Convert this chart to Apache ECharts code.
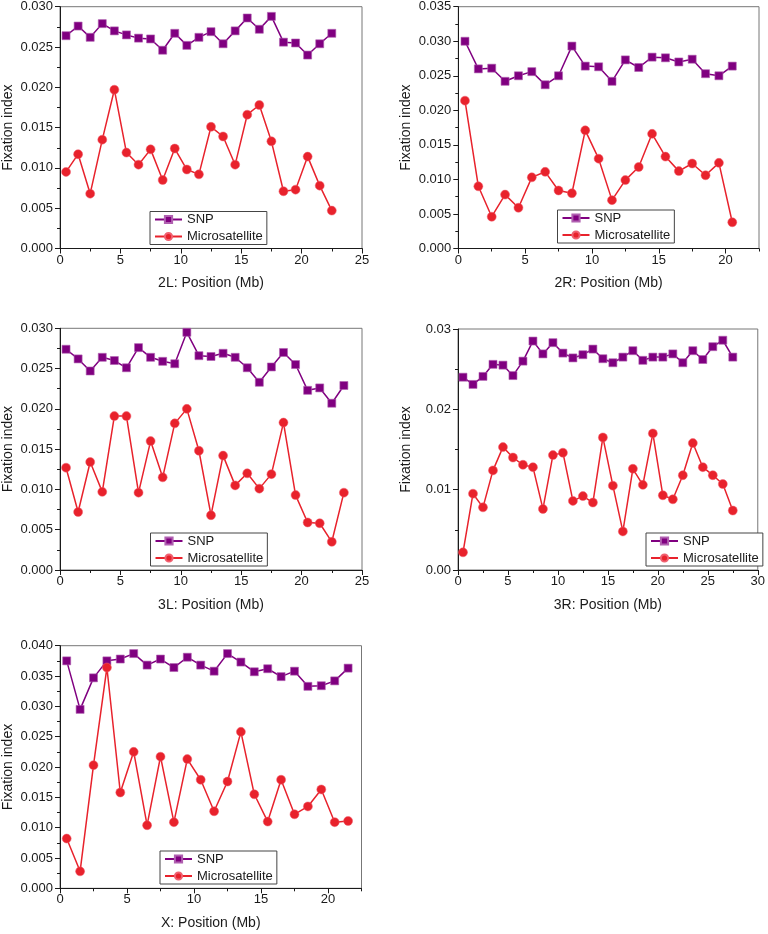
<!DOCTYPE html>
<html>
<head>
<meta charset="utf-8">
<script src="https://cdn.jsdelivr.net/npm/echarts@6/dist/echarts.min.js"></script>
<style>
html,body{margin:0;padding:0;background:#fff;}
#chart{width:768px;height:934px;}
</style>
</head>
<body>
<div id="chart"></div>
<script>
// ---- data ----
const panelNames = ['2L: Position (Mb)', '2R: Position (Mb)', '3L: Position (Mb)', '3R: Position (Mb)', 'X: Position (Mb)'];
const seriesNames = ['SNP', 'Microsatellite'];

const x2L = [0.5,1.5,2.5,3.5,4.5,5.5,6.5,7.5,8.5,9.5,10.5,11.5,12.5,13.5,14.5,15.5,16.5,17.5,18.5,19.5,20.5,21.5,22.5];
const snp2L = [0.0264,0.0276,0.0262,0.0279,0.0270,0.0265,0.0261,0.0260,0.0246,0.0267,0.0252,0.0262,0.0269,0.0254,0.0270,0.0286,0.0272,0.0288,0.0256,0.0255,0.0240,0.0254,0.0267];
const ms2L = [0.0095,0.0117,0.0068,0.0135,0.0197,0.0119,0.0104,0.0123,0.0085,0.0124,0.0098,0.0092,0.0151,0.0139,0.0104,0.0166,0.0178,0.0133,0.0071,0.0073,0.0114,0.0078,0.0047];

const x2R = [0.5,1.5,2.5,3.5,4.5,5.5,6.5,7.5,8.5,9.5,10.5,11.5,12.5,13.5,14.5,15.5,16.5,17.5,18.5,19.5,20.5];
const snp2R = [0.0300,0.0260,0.0261,0.0242,0.0250,0.0256,0.0237,0.0250,0.0293,0.0264,0.0263,0.0242,0.0273,0.0262,0.0277,0.0276,0.0270,0.0274,0.0253,0.0250,0.0264];
const ms2R = [0.0214,0.0090,0.0046,0.0078,0.0059,0.0103,0.0111,0.0084,0.0080,0.0171,0.0130,0.0070,0.0099,0.0118,0.0166,0.0133,0.0112,0.0123,0.0106,0.0124,0.0038];

const x3L = [0.5,1.5,2.5,3.5,4.5,5.5,6.5,7.5,8.5,9.5,10.5,11.5,12.5,13.5,14.5,15.5,16.5,17.5,18.5,19.5,20.5,21.5,22.5,23.5];
const snp3L = [0.0274,0.0262,0.0247,0.0264,0.0260,0.0251,0.0276,0.0264,0.0259,0.0256,0.0295,0.0266,0.0265,0.0269,0.0264,0.0251,0.0233,0.0252,0.0270,0.0255,0.0223,0.0226,0.0207,0.0229];
const ms3L = [0.0127,0.0072,0.0134,0.0097,0.0191,0.0191,0.0096,0.0160,0.0115,0.0182,0.0200,0.0148,0.0068,0.0142,0.0105,0.0120,0.0101,0.0119,0.0183,0.0093,0.0059,0.0058,0.0035,0.0096];

const x3R = [0.5,1.5,2.5,3.5,4.5,5.5,6.5,7.5,8.5,9.5,10.5,11.5,12.5,13.5,14.5,15.5,16.5,17.5,18.5,19.5,20.5,21.5,22.5,23.5,24.5,25.5,26.5,27.5];
const snp3R = [0.0240,0.0231,0.0241,0.0256,0.0255,0.0242,0.0260,0.0285,0.0269,0.0283,0.0270,0.0264,0.0268,0.0275,0.0263,0.0258,0.0265,0.0273,0.0261,0.0265,0.0265,0.0269,0.0258,0.0273,0.0262,0.0278,0.0286,0.0265];
const ms3R = [0.0022,0.0095,0.0078,0.0124,0.0153,0.0140,0.0131,0.0128,0.0076,0.0143,0.0146,0.0086,0.0092,0.0084,0.0165,0.0105,0.0048,0.0126,0.0106,0.0170,0.0093,0.0088,0.0118,0.0158,0.0128,0.0118,0.0107,0.0074];

const xX = [0.5,1.5,2.5,3.5,4.5,5.5,6.5,7.5,8.5,9.5,10.5,11.5,12.5,13.5,14.5,15.5,16.5,17.5,18.5,19.5,20.5,21.5];
const snpX = [0.0375,0.0295,0.0347,0.0375,0.0378,0.0387,0.0368,0.0378,0.0364,0.0381,0.0368,0.0358,0.0387,0.0373,0.0357,0.0362,0.0349,0.0358,0.0333,0.0334,0.0342,0.0363];
const msX = [0.0082,0.0028,0.0203,0.0364,0.0158,0.0225,0.0104,0.0217,0.0109,0.0213,0.0179,0.0127,0.0176,0.0258,0.0155,0.0110,0.0179,0.0122,0.0135,0.0163,0.0109,0.0111];

// axis ranges
const xMax = [25, 22.5, 25, 30, 22.5];
const xMajorTicks = [[0,5,10,15,20,25],[0,5,10,15,20],[0,5,10,15,20,25],[0,5,10,15,20,25,30],[0,5,10,15,20]];
const yMax = [0.030, 0.035, 0.030, 0.03, 0.040];
const yInterval = [0.005, 0.005, 0.005, 0.01, 0.005];
const yDecimals = [3, 3, 3, 2, 3];

const panelX = [x2L, x2R, x3L, x3R, xX];
const panelSNP = [snp2L, snp2R, snp3L, snp3R, snpX];
const panelMS = [ms2L, ms2R, ms3L, ms3R, msX];

// ---- layout ----
const grids = [
  {left: 60, top: 6.7, width: 302, height: 241.8},
  {left: 458.3, top: 6.7, width: 300.7, height: 241.8},
  {left: 60, top: 328.3, width: 302, height: 241.7},
  {left: 458, top: 329, width: 301, height: 241},
  {left: 60, top: 645.7, width: 301.5, height: 242.6}
];
const legendPos = [
  {left: 150, top: 211.5},
  {left: 557.5, top: 210},
  {left: 150.5, top: 533},
  {left: 646, top: 533},
  {left: 160, top: 851}
];

const FONT = 'Liberation Sans, Arial, sans-serif';
const SNP_COLOR = '#800080';
const MS_COLOR = '#e8222c';
const AXIS_COLOR = '#1a1a1a';

const option = {
  backgroundColor: '#fff',
  animation: false,
  textStyle: {fontFamily: FONT},
  grid: [], xAxis: [], yAxis: [], series: [], legend: []
};

for (let i = 0; i < 5; i++) {
  option.grid.push(Object.assign({show: true, borderColor: '#777', borderWidth: 1, backgroundColor: 'transparent', containLabel: false}, grids[i]));
  // main x axis
  option.xAxis.push({
    type: 'value', gridIndex: i, min: 0, max: xMax[i], interval: 5, position: 'bottom',
    name: panelNames[i], nameLocation: 'middle', nameGap: 28,
    nameTextStyle: {fontSize: 14, color: AXIS_COLOR, fontFamily: FONT},
    axisLine: {show: true, onZero: false, lineStyle: {color: AXIS_COLOR, width: 1}},
    axisTick: {show: true, inside: false, length: 5, lineStyle: {color: AXIS_COLOR}, customValues: xMajorTicks[i]},
    minorTick: {show: false},
    axisLabel: {fontSize: 13, color: AXIS_COLOR, margin: 5, fontFamily: FONT, customValues: xMajorTicks[i]},
    splitLine: {show: false}
  });
  option.yAxis.push({
    type: 'value', gridIndex: i, min: 0, max: yMax[i], interval: yInterval[i],
    name: 'Fixation index', nameLocation: 'middle', nameGap: 45,
    nameTextStyle: {fontSize: 14, color: AXIS_COLOR, fontFamily: FONT},
    axisLine: {show: true, onZero: false, lineStyle: {color: AXIS_COLOR, width: 1}},
    axisTick: {show: true, inside: false, length: 5, lineStyle: {color: AXIS_COLOR}},
    minorTick: {show: true, splitNumber: 2, length: 3, lineStyle: {color: AXIS_COLOR}},
    axisLabel: {fontSize: 13, color: AXIS_COLOR, margin: 7, fontFamily: FONT,
      formatter: (v => (val => val.toFixed(yDecimals[v])))(i)},
    splitLine: {show: false}
  });
  option.series.push({
    name: seriesNames[0], type: 'line', xAxisIndex: i * 2, yAxisIndex: i,
    data: panelX[i].map((x, k) => [x, panelSNP[i][k]]),
    symbol: 'rect', symbolSize: 8,
    lineStyle: {color: SNP_COLOR, width: 1.5},
    itemStyle: {color: SNP_COLOR, borderColor: '#b060b0', borderWidth: 0.6},
    z: 3
  });
  option.series.push({
    name: seriesNames[1], type: 'line', xAxisIndex: i * 2, yAxisIndex: i,
    data: panelX[i].map((x, k) => [x, panelMS[i][k]]),
    symbol: 'circle', symbolSize: 9,
    lineStyle: {color: MS_COLOR, width: 1.5},
    itemStyle: {color: MS_COLOR, borderColor: '#f06070', borderWidth: 0.5},
    z: 3
  });
  // minor tick overlay x axis
  option.xAxis.push({
    type: 'value', gridIndex: i, min: 0, max: xMax[i], interval: 2.5, position: 'bottom',
    axisLine: {show: false, onZero: false},
    axisTick: {show: true, inside: false, length: 3, lineStyle: {color: AXIS_COLOR}},
    axisLabel: {show: false},
    splitLine: {show: false}
  });
  option.legend.push(Object.assign({
    data: seriesNames, orient: 'vertical', itemGap: 3, itemWidth: 27, itemHeight: 9,
    padding: [1, 4, 1, 4], borderColor: '#444', borderWidth: 1, backgroundColor: '#fff',
    selectedMode: false,
    textStyle: {fontSize: 13, color: AXIS_COLOR, fontFamily: FONT, lineHeight: 14}
  }, legendPos[i]));
}

const chart = echarts.init(document.getElementById('chart'), null, {renderer: 'canvas', width: 768, height: 934});
chart.setOption(option);
</script>
</body>
</html>
